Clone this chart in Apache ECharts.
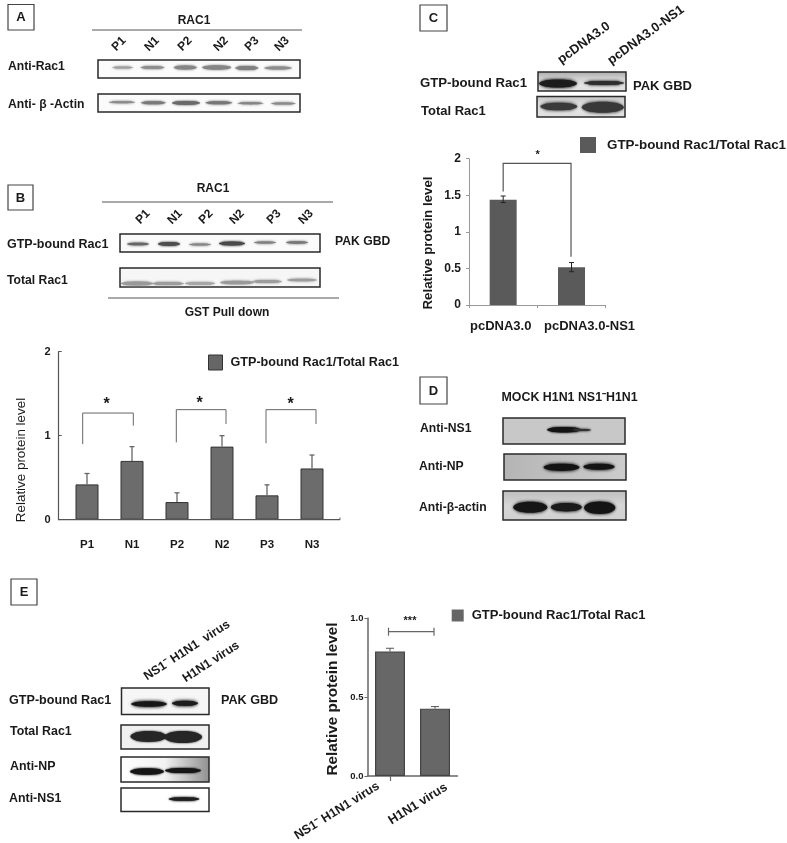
<!DOCTYPE html>
<html>
<head>
<meta charset="utf-8">
<title>Rac1 activation figure</title>
<script src="https://cdn.jsdelivr.net/npm/echarts@6/dist/echarts.min.js"></script>
<style>
html,body{margin:0;padding:0;background:#fff}
#c{width:787px;height:843px;filter:blur(0.4px)}
</style>
</head>
<body>
<div id="c"></div>
<script>
// ---------- chart data ----------
var seriesName = 'GTP-bound Rac1/Total Rac1';
var yAxisName = 'Relative protein level';

var catsB = ['P1', 'N1', 'P2', 'N2', 'P3', 'N3'];
var valsB = [0.42, 0.70, 0.21, 0.87, 0.29, 0.61];
var errTopB = [0.55, 0.87, 0.32, 1.00, 0.415, 0.77];
var bracketsB = [[0, 1, 1.27, 0.90, 1.12], [2, 3, 1.31, 0.92, 1.14], [4, 5, 1.31, 0.91, 1.14]];

var catsC = ['pcDNA3.0', 'pcDNA3.0-NS1'];
var valsC = [1.44, 0.515];
var errTopC = [1.49, 0.58];
var errBottomC = [1.40, 0.455];
var bracketsC = [[0, 1, 1.937, 1.55, 0.66]];

var catsE = ['NS1\u207B H1N1 virus', 'H1N1 virus'];
var valsE = [0.79, 0.427];
var errTopE = [0.81, 0.44];
var bracketE = [0, 1, 0.915];

// ---------- blots (decorative panels: box, background, bands) ----------
// band = [centre x, centre y, half width, half height, colour, blur]
var panelsBlot = [
 {b:[98,60,202,18],bg:'#fbfbfb',bands:[[122.7,67.5,10.5,1.1,'#a0a0a0',2],[152.5,67.5,12,1.5,'#8e8e8e',2],[185.3,67.5,11.5,2,'#858585',2],[216.7,67.5,14.5,2.2,'#858585',2],[246.8,68,11.5,2,'#808080',2],[278,68,14,1.5,'#8c8c8c',2]]},
 {b:[98,94,202,18],bg:'#fbfbfb',bands:[[122,102.3,13,1,'#8a8a8a',2],[153.3,102.8,12.5,1.5,'#7a7a7a',2],[186,103,14,1.9,'#6a6a6a',2],[218.8,102.8,13.5,1.5,'#777',2],[250.5,103.3,13,1.1,'#858585',2],[283.3,103.5,12.5,1.1,'#8a8a8a',2]]},
 {b:[120,234,200,18],bg:'#fafafa',bands:[[138,244,11,1.3,'#666',2],[169,244,11,1.9,'#4c4c4c',2],[200,244.5,11,1,'#888',2],[232,243.5,13,2,'#4a4a4a',2],[265,242.5,11,1,'#808080',2],[297,242.5,11,1.2,'#777',2]]},
 {b:[120,268,200,19],bg:'#f6f6f6',bands:[[137,283.5,16,2,'#999',2],[168,283.5,16,1.6,'#9c9c9c',2],[200,283.5,15,1.4,'#a6a6a6',2],[237,282.5,17,1.8,'#999',2],[267,281.5,15,1.5,'#9c9c9c',2],[302,280,15,1.3,'#9c9c9c',2]]},
 {b:[538,72,88,19],bg:{v:['#a8a8a8','#cfcfcf','#e4e4e4','#e0e0e0']},bands:[[558,83.5,19,4,'#1c1c1c',3],[604,83,20,2,'#2e2e2e',2.5]]},
 {b:[537,96.5,88,20.5],bg:{v:['#c4c4c4','#e6e6e6','#dedede']},bands:[[558.8,106.5,18.5,3.8,'#3a3a3a',3],[602.8,107.3,21,5.5,'#383838',3]]},
 {b:[503,418,122,26],bg:'#c8c8c8',bands:[[564,429.7,17,2.8,'#141414',2],[582,430,9,1,'#333',2]]},
 {b:[504,454,122,26],bg:{h:['#b4b4b4','#c2c2c2','#cccccc']},bands:[[561.5,467.3,18,3.6,'#141414',3],[599,466.7,15.7,3,'#141414',3]]},
 {b:[503,491,123,29],bg:{v:['#bdbdbd','#d6d6d6','#d0d0d0']},bands:[[530.3,507.3,17,5.5,'#161616',3],[566.3,507.3,15.5,4.2,'#1a1a1a',3],[599.7,507.7,15.6,6.2,'#141414',3]]},
 {b:[121.5,688,87.5,26.5],bg:'#f6f6f6',bands:[[149,704,18,2.8,'#161616',3],[185,703.3,13,2.6,'#1c1c1c',3]]},
 {b:[121,725,88,24],bg:'#f0f0f0',bands:[[148.5,736.5,18,5.4,'#262626',2],[183,737,19,6,'#262626',2]]},
 {b:[121,757,88,25],bg:{h:['#ffffff','#f2f2f2','#8f8f8f']},bands:[[147,771.5,17,3.3,'#161616',2],[183,770.5,18,2.6,'#161616',2]]},
 {b:[121,788,88,23.5],bg:'#ffffff',bands:[[184,799,15.5,1.8,'#1e1e1e',2]]}
];

// ---------- helpers ----------
var FONT = '"Liberation Sans", Arial, sans-serif';
function txt(s, x, y, size, o) {
  o = o || {};
  return {type:'text', x:x, y:y, rotation:(o.rot||0)*Math.PI/180, silent:true, z:5,
    style:{text:s, font:(o.weight||'bold')+' '+size+'px '+FONT, fill:o.fill||'#1a1a1a',
      textAlign:o.align||'left', textVerticalAlign:'middle', verticalAlign:'middle'}};
}
function seg(x1,y1,x2,y2,c,w){
  return {type:'line', silent:true, z:4, shape:{x1:x1,y1:y1,x2:x2,y2:y2}, style:{stroke:c||'#444',lineWidth:w||1}};
}
function letterBox(ch,x,y,w,h){
  return [{type:'rect',silent:true,shape:{x:x,y:y,width:w,height:h},style:{fill:'#fff',stroke:'#444',lineWidth:1.2}},
          txt(ch,x+w/2,y+h/2+0.5,13,{align:'center'})];
}
function ramp(list,x2,y2){
  return new echarts.graphic.LinearGradient(0,0,x2,y2,list.map(function(c,i){return {offset:i/(list.length-1),color:c};}));
}
function blotEls(p){
  var fill = p.bg;
  if (p.bg.h) fill = ramp(p.bg.h,1,0);
  if (p.bg.v) fill = ramp(p.bg.v,0,1);
  var els = [{type:'rect',silent:true,z:1,shape:{x:p.b[0],y:p.b[1],width:p.b[2],height:p.b[3]},style:{fill:fill,stroke:'#2a2a2a',lineWidth:1.5}}];
  p.bands.forEach(function(b){
    // lens-shaped band: a soft ellipse over a soft flattened core
    els.push({type:'ellipse',silent:true,z:2,shape:{cx:b[0],cy:b[1],rx:b[2],ry:b[3]},
      style:{fill:b[4],shadowColor:b[4],shadowBlur:b[5]}});
    var crx=b[2]*0.78, cry=b[3]*0.72;
    els.push({type:'rect',silent:true,z:2,shape:{x:b[0]-crx,y:b[1]-cry,width:2*crx,height:2*cry,r:cry},
      style:{fill:b[4],shadowColor:b[4],shadowBlur:b[5]+1}});
  });
  return els;
}
var valsOf = [valsB, valsC, valsE];
function errorSeries(xi, tops, bottoms, capHalf, color, width){
  return {type:'custom', name:'error', xAxisIndex:xi, yAxisIndex:xi, silent:true, z:6,
    data:tops.map(function(t,i){return [i, bottoms?bottoms[i]:t, t];}),
    encode:{x:0,y:[1,2]},
    renderItem:function(params,api){
      var i=api.value(0), top=api.coord([i,api.value(2)]), bottom=api.coord([i,api.value(1)]);
      var st={stroke:color,lineWidth:width,fill:null};
      var base=api.coord([i, bottoms?api.value(1):valsOf[xi][i]]);
      var kids=[
        {type:'line',shape:{x1:top[0],y1:top[1],x2:base[0],y2:base[1]},style:st},
        {type:'line',shape:{x1:top[0]-capHalf,y1:top[1],x2:top[0]+capHalf,y2:top[1]},style:st}];
      if(bottoms) kids.push({type:'line',shape:{x1:bottom[0]-capHalf,y1:bottom[1],x2:bottom[0]+capHalf,y2:bottom[1]},style:st});
      return {type:'group',children:kids};
    }};
}
function bracketSeries(xi, rows, offs, color, width){
  return {type:'custom', name:'bracket', xAxisIndex:xi, yAxisIndex:xi, silent:true, z:6,
    data:rows, encode:{x:[0,1],y:[2,3,4]},
    renderItem:function(params,api){
      var a=api.value(0), b=api.value(1);
      var o=offs[params.dataIndex];
      var l=api.coord([a,api.value(3)]), lt=api.coord([a,api.value(2)]);
      var r=api.coord([b,api.value(4)]), rt=api.coord([b,api.value(2)]);
      return {type:'polyline',shape:{points:[[l[0]+o[0],l[1]],[lt[0]+o[0],lt[1]],[rt[0]+o[1],rt[1]],[r[0]+o[1],r[1]]]},
        style:{stroke:color,lineWidth:width,fill:null}};
    }};
}
function legendAt(left, top, w, h, color, size, gap, border){
  return {left:left, top:top, orient:'horizontal', selectedMode:false, padding:0, itemWidth:w, itemHeight:h,
    data:[{name:seriesName, icon:'rect', itemStyle:{color:color,borderColor:border,borderWidth:border?1:0}}],
    textStyle:{fontFamily:FONT,fontWeight:'bold',fontSize:size,color:'#1a1a1a',padding:[0,0,0,gap]}};
}

// ---------- graphics ----------
var els = [];
function add(a){ els = els.concat(a); }
add(letterBox('A',8,4.5,26,25.5));
add(letterBox('B',8,185,25,25));
add(letterBox('C',420,5,27,26));
add(letterBox('D',420,377,27,27));
add(letterBox('E',11,579,26,26));
panelsBlot.forEach(function(p){ add(blotEls(p)); });

// panel A
add([txt('RAC1',194,21,12,{align:'center'}), seg(92,30,302,30,'#555',1)]);
[[119,'P1'],[152,'N1'],[185,'P2'],[221,'N2'],[252,'P3'],[282,'N3']].forEach(function(l){ add([txt(l[1],l[0],44,12,{align:'center',rot:45})]); });
add([txt('Anti-Rac1',8,67,12.2), txt('Anti- \u03B2 -Actin',8,105,12.2)]);
// panel B
add([txt('RAC1',213,189,12,{align:'center'}), seg(102,202,333,202,'#555',1)]);
[[143,'P1'],[175,'N1'],[206,'P2'],[237,'N2'],[274,'P3'],[306,'N3']].forEach(function(l){ add([txt(l[1],l[0],217,12,{align:'center',rot:45})]); });
add([txt('GTP-bound Rac1',7,245,12.5), txt('Total Rac1',7,281,12.2), txt('PAK GBD',335,242,12.2),
     seg(108,298,339,298,'#555',1), txt('GST Pull down',227,313,12,{align:'center'})]);
add([seg(58.7,519.7,340,519.7,'#555',1.2), seg(340,519.7,340,517.5,'#555',1)]);
add([txt('*',106.7,405,16,{align:'center'}), txt('*',199.5,403.5,16,{align:'center'}), txt('*',290.5,405,16,{align:'center'})]);
add([txt(yAxisName,21.7,460,13.4,{align:'center',rot:90,weight:'normal'})]);
// panel C
add([txt('pcDNA3.0',584,43,13,{align:'center',rot:36}), txt('pcDNA3.0-NS1',646,35,13,{align:'center',rot:36}),
     txt('GTP-bound Rac1',420,83,13.2), txt('Total Rac1',421,111,13), txt('PAK GBD',633,86,13),
     txt('*',537.7,155,11,{align:'center'}), txt(yAxisName,428.5,243,13.3,{align:'center',rot:90})]);
// panel D
add([txt('MOCK H1N1 NS1\u207BH1N1',501.5,398,12.4), txt('Anti-NS1',420,429,12.2), txt('Anti-NP',419,467,12.2), txt('Anti-\u03B2-actin',419,507.5,12.2)]);
// panel E
add([txt('NS1\u207B H1N1  virus',187,650.5,12.4,{align:'center',rot:33}), txt('H1N1 virus',211,662,12.4,{align:'center',rot:33}),
     txt('GTP-bound Rac1',9,700.5,12.6), txt('Total Rac1',10,732,12.4), txt('Anti-NP',10,767,12.4), txt('Anti-NS1',9,798.5,12.4), txt('PAK GBD',221,701,12.6),
     txt('***',410,621,11,{align:'center'}), txt(yAxisName,333,699,15.3,{align:'center',rot:90})]);
add([txt(catsE[0],337,811,12.6,{align:'center',rot:32}), txt(catsE[1],418,804,12.8,{align:'center',rot:32})]);

// ---------- option ----------
var chart = echarts.init(document.getElementById('c'), null, {renderer:'canvas'});
function yAxis(grid, max, interval, o){
  return Object.assign({type:'value', gridIndex:grid, min:0, max:max, interval:interval, splitLine:{show:false}, silent:true}, o);
}
var option = {
  animation:false, backgroundColor:'#fff',
  grid:[
    {left:64.5, top:351.7, width:270, height:168},
    {left:469, top:158.7, width:136.7, height:146.3},
    {left:367.5, top:618.3, width:90, height:157.7}
  ],
  legend:[
    legendAt(208,354.5,14,15,'#666',12.6,3,'#333'),
    legendAt(580,137,16,16,'#5a5a5a',13.4,6),
    legendAt(451.7,609,12,12,'#666',13,3)
  ],
  xAxis:[
    {type:'category', gridIndex:0, data:catsB, axisLine:{show:false}, axisTick:{show:false},
     axisLabel:{margin:19,fontFamily:FONT,fontWeight:'bold',fontSize:11.5,color:'#1a1a1a'}},
    {type:'category', gridIndex:1, data:catsC, axisLine:{lineStyle:{color:'#999',width:1}}, axisTick:{show:true,length:3,lineStyle:{color:'#999'}},
     axisLabel:{margin:15,interval:0,fontFamily:FONT,fontWeight:'bold',fontSize:13,color:'#1a1a1a',
       formatter:function(v,i){return i===0?'{a|'+v+'}':'{b|'+v+'}';},
       rich:{a:{fontFamily:FONT,fontWeight:'bold',fontSize:13,color:'#1a1a1a',padding:[0,5,0,0]},
             b:{fontFamily:FONT,fontWeight:'bold',fontSize:13,color:'#1a1a1a',padding:[0,0,0,36]}}}},
    {type:'category', gridIndex:2, data:catsE, axisLine:{lineStyle:{color:'#666',width:1.5}}, axisTick:{show:true,alignWithLabel:true,length:5,lineStyle:{color:'#666',width:1.2}}, axisLabel:{show:false}}
  ],
  yAxis:[
    yAxis(0,2,1,{offset:5.8,
      axisLine:{show:true,onZero:false,lineStyle:{color:'#555',width:1.2}},axisTick:{show:true,inside:true,length:3,lineStyle:{color:'#555'}},
      axisLabel:{margin:8,fontFamily:FONT,fontWeight:'bold',fontSize:11,color:'#1a1a1a'}}),
    yAxis(1,2,0.5,{
      axisLine:{show:true,onZero:false,lineStyle:{color:'#999',width:1}},axisTick:{show:true,length:3,lineStyle:{color:'#999'}},
      axisLabel:{margin:8,fontFamily:FONT,fontWeight:'bold',fontSize:12,color:'#1a1a1a',formatter:function(v){return String(v);}}}),
    yAxis(2,1,0.5,{
      axisLine:{show:true,onZero:false,lineStyle:{color:'#666',width:1.5}},axisTick:{show:true,length:3,lineStyle:{color:'#666'}},
      axisLabel:{margin:4,fontFamily:FONT,fontWeight:'bold',fontSize:9.5,color:'#1a1a1a',formatter:function(v){return v.toFixed(1);}}})
  ],
  series:[
    {type:'bar', name:seriesName, xAxisIndex:0, yAxisIndex:0, data:valsB, barWidth:23, silent:true, itemStyle:{color:'#6c6c6c',borderColor:'#333',borderWidth:1}},
    {type:'bar', name:seriesName, xAxisIndex:1, yAxisIndex:1, data:valsC, barWidth:27, silent:true, itemStyle:{color:'#5a5a5a'}},
    {type:'bar', name:seriesName, xAxisIndex:2, yAxisIndex:2, data:valsE, barWidth:30, silent:true, itemStyle:{color:'#676767',borderColor:'#444',borderWidth:1.2}},
    errorSeries(0, errTopB, null, 2.5, '#666', 1.3),
    errorSeries(1, errTopC, errBottomC, 2.5, '#222', 1),
    errorSeries(2, errTopE, null, 4, '#555', 1),
    bracketSeries(0, bracketsB, [[-4.3,1.3],[-0.7,4],[-1,4]], '#666', 1),
    bracketSeries(1, bracketsC, [[0,-0.5]], '#555', 1.2),
    {type:'custom', name:'bracket', xAxisIndex:2, yAxisIndex:2, silent:true, z:6, data:[bracketE], encode:{x:[0,1],y:2},
     renderItem:function(p,api){
       var a=api.coord([api.value(0),api.value(2)]), b=api.coord([api.value(1),api.value(2)]);
       var st={stroke:'#666',lineWidth:1.2};
       return {type:'group',children:[
         {type:'line',shape:{x1:a[0]-1.5,y1:a[1],x2:b[0]-1,y2:b[1]},style:st},
         {type:'line',shape:{x1:a[0]-1.5,y1:a[1]-4,x2:a[0]-1.5,y2:a[1]+4},style:st},
         {type:'line',shape:{x1:b[0]-1,y1:b[1]-4,x2:b[0]-1,y2:b[1]+4},style:st}]};
     }}
  ],
  graphic:{elements:els}
};
chart.setOption(option);
</script>
</body>
</html>
